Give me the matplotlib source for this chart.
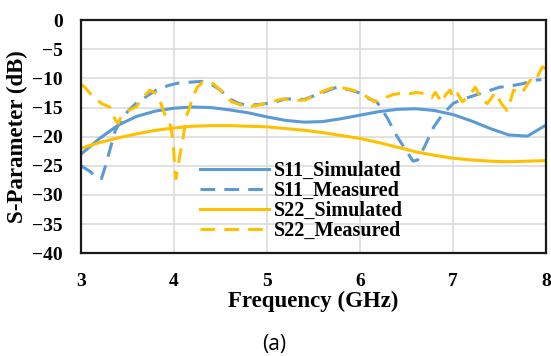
import numpy as np
import matplotlib
matplotlib.use("Agg")
import matplotlib.pyplot as plt

# simulated curves (GHz, dB)
f_sim = [3.0, 3.2, 3.4, 3.6, 3.8, 4.0, 4.2, 4.4, 4.6, 4.8, 5.0, 5.2, 5.4,
         5.6, 5.8, 6.0, 6.2, 6.4, 6.6, 6.8, 7.0, 7.2, 7.4, 7.6, 7.8, 8.0]
s11_sim = [-23.0, -20.3, -18.0, -16.5, -15.6, -15.1, -14.9, -15.0, -15.4, -15.9,
           -16.6, -17.2, -17.5, -17.4, -16.9, -16.3, -15.7, -15.3, -15.2, -15.5,
           -16.2, -17.3, -18.6, -19.7, -19.9, -18.0]
s22_sim = [-22.0, -21.0, -20.2, -19.5, -18.9, -18.5, -18.2, -18.1, -18.1, -18.2,
           -18.3, -18.6, -18.9, -19.3, -19.8, -20.3, -21.0, -21.8, -22.6, -23.2,
           -23.7, -24.0, -24.2, -24.3, -24.2, -24.1]

# measured S11
f_s11m = [3.0, 3.1, 3.16, 3.22, 3.26, 3.31, 3.37, 3.43, 3.51, 3.59, 3.72, 3.81,
          3.94, 4.04, 4.2, 4.3, 4.4, 4.5, 4.6, 4.7, 4.8, 4.95, 5.1, 5.2, 5.4,
          5.5, 5.6, 5.75, 5.9, 6.0, 6.1, 6.18, 6.29, 6.4, 6.5, 6.57, 6.62, 6.7,
          6.79, 6.88, 7.0, 7.08, 7.29, 7.5, 7.61, 7.75, 7.86, 7.95]
s11_meas = [-25.0, -26.0, -27.0, -27.2, -25.2, -22.3, -18.9, -17.2, -15.5, -14.3,
            -12.9, -12.0, -11.2, -10.8, -10.6, -10.5, -11.0, -12.0, -13.5, -14.3,
            -14.6, -14.4, -14.0, -13.5, -13.6, -13.0, -12.4, -11.5, -12.0, -12.5,
            -13.5, -14.0, -16.7, -20.0, -22.5, -24.2, -24.0, -21.5, -18.4, -16.3,
            -14.3, -13.7, -12.6, -11.5, -11.3, -10.9, -10.3, -10.2]

# measured S22
f_s22m = [3.0, 3.04, 3.1, 3.22, 3.31, 3.37, 3.4, 3.43, 3.51, 3.59, 3.67, 3.74,
          3.81, 3.86, 3.91, 3.96, 3.99, 4.01, 4.02, 4.06, 4.1, 4.13, 4.17, 4.2,
          4.25, 4.31, 4.4, 4.5, 4.62, 4.78, 4.9, 5.0, 5.17, 5.3, 5.41, 5.5, 5.59,
          5.7, 5.78, 5.9, 5.98, 6.08, 6.16, 6.25, 6.35, 6.41, 6.47, 6.54, 6.6,
          6.7, 6.77, 6.81, 6.88, 6.92, 6.97, 7.0, 7.05, 7.1, 7.17, 7.24, 7.31,
          7.37, 7.42, 7.45, 7.52, 7.58, 7.62, 7.65, 7.74, 7.78, 7.83, 7.88,
          7.96, 8.0]
s22_meas = [-11.0, -11.5, -12.6, -14.3, -14.9, -17.2, -17.7, -16.6, -15.5, -14.9,
            -13.2, -12.0, -12.6, -14.3, -16.6, -18.0, -20.6, -25.8, -27.2, -23.5,
            -20.0, -16.6, -14.9, -13.2, -11.5, -10.6, -10.6, -12.0, -14.0, -14.9,
            -14.6, -14.2, -13.5, -13.8, -13.7, -13.0, -12.3, -11.6, -11.5, -11.9,
            -12.3, -13.2, -14.0, -13.4, -12.8, -12.6, -12.4, -12.6, -12.4, -12.6,
            -13.3, -12.4, -14.1, -12.8, -12.0, -13.4, -12.6, -14.0, -13.0, -11.5,
            -13.7, -14.3, -13.2, -12.4, -14.3, -15.5, -13.7, -12.0, -12.6, -11.5,
            -10.3, -10.6, -8.0, -8.3]

BLUE = "#5B9BD5"
GOLD = "#FFC000"
serif = "Liberation Serif"

fig = plt.figure(figsize=(5.51, 3.56), dpi=100)
ax = fig.add_axes([0.147, 0.289, 0.844, 0.654])

lw = 2.2
dash = (4.8, 3.0)
ax.plot(f_sim, s11_sim, color=BLUE, lw=lw, label="S11_Simulated")
ax.plot(f_s11m, s11_meas, color=BLUE, lw=lw, dashes=dash, label="S11_Measured")
ax.plot(f_sim, s22_sim, color=GOLD, lw=lw, label="S22_Simulated")
ax.plot(f_s22m, s22_meas, color=GOLD, lw=lw, dashes=dash, label="S22_Measured")

ax.set_xlim(3, 8)
ax.set_ylim(-40, 0)
ax.set_xticks(range(3, 9))
ax.set_yticks(range(-40, 1, 5))
ax.grid(True, color="#d9d9d9", lw=1.1)
ax.set_axisbelow(True)
for s in ax.spines.values():
    s.set_linewidth(1.6)
    s.set_color("#1a1a1a")
ax.tick_params(length=0)
ax.tick_params(axis="x", pad=14)
ax.tick_params(axis="y", pad=13)
for t in ax.get_xticklabels() + ax.get_yticklabels():
    t.set_fontfamily(serif)
    t.set_fontweight("bold")
    t.set_fontsize(14)

ax.set_xlabel("Frequency (GHz)", fontfamily=serif, fontweight="bold", fontsize=16.5, labelpad=1)
ax.set_ylabel("S-Parameter (dB)", fontfamily=serif, fontweight="bold", fontsize=16.5, labelpad=3)

leg = ax.legend(loc="upper left", bbox_to_anchor=(0.256, 0.395), frameon=False,
                borderpad=0, borderaxespad=0, handlelength=3.4, handletextpad=0.25,
                labelspacing=0.0, prop={"family": serif, "weight": "bold", "size": 14.5})

fig.text(0.497, 0.031, "(a)", fontfamily="Open Sans", fontsize=15, ha="center", va="center")

fig.savefig("out.png", dpi=100)
